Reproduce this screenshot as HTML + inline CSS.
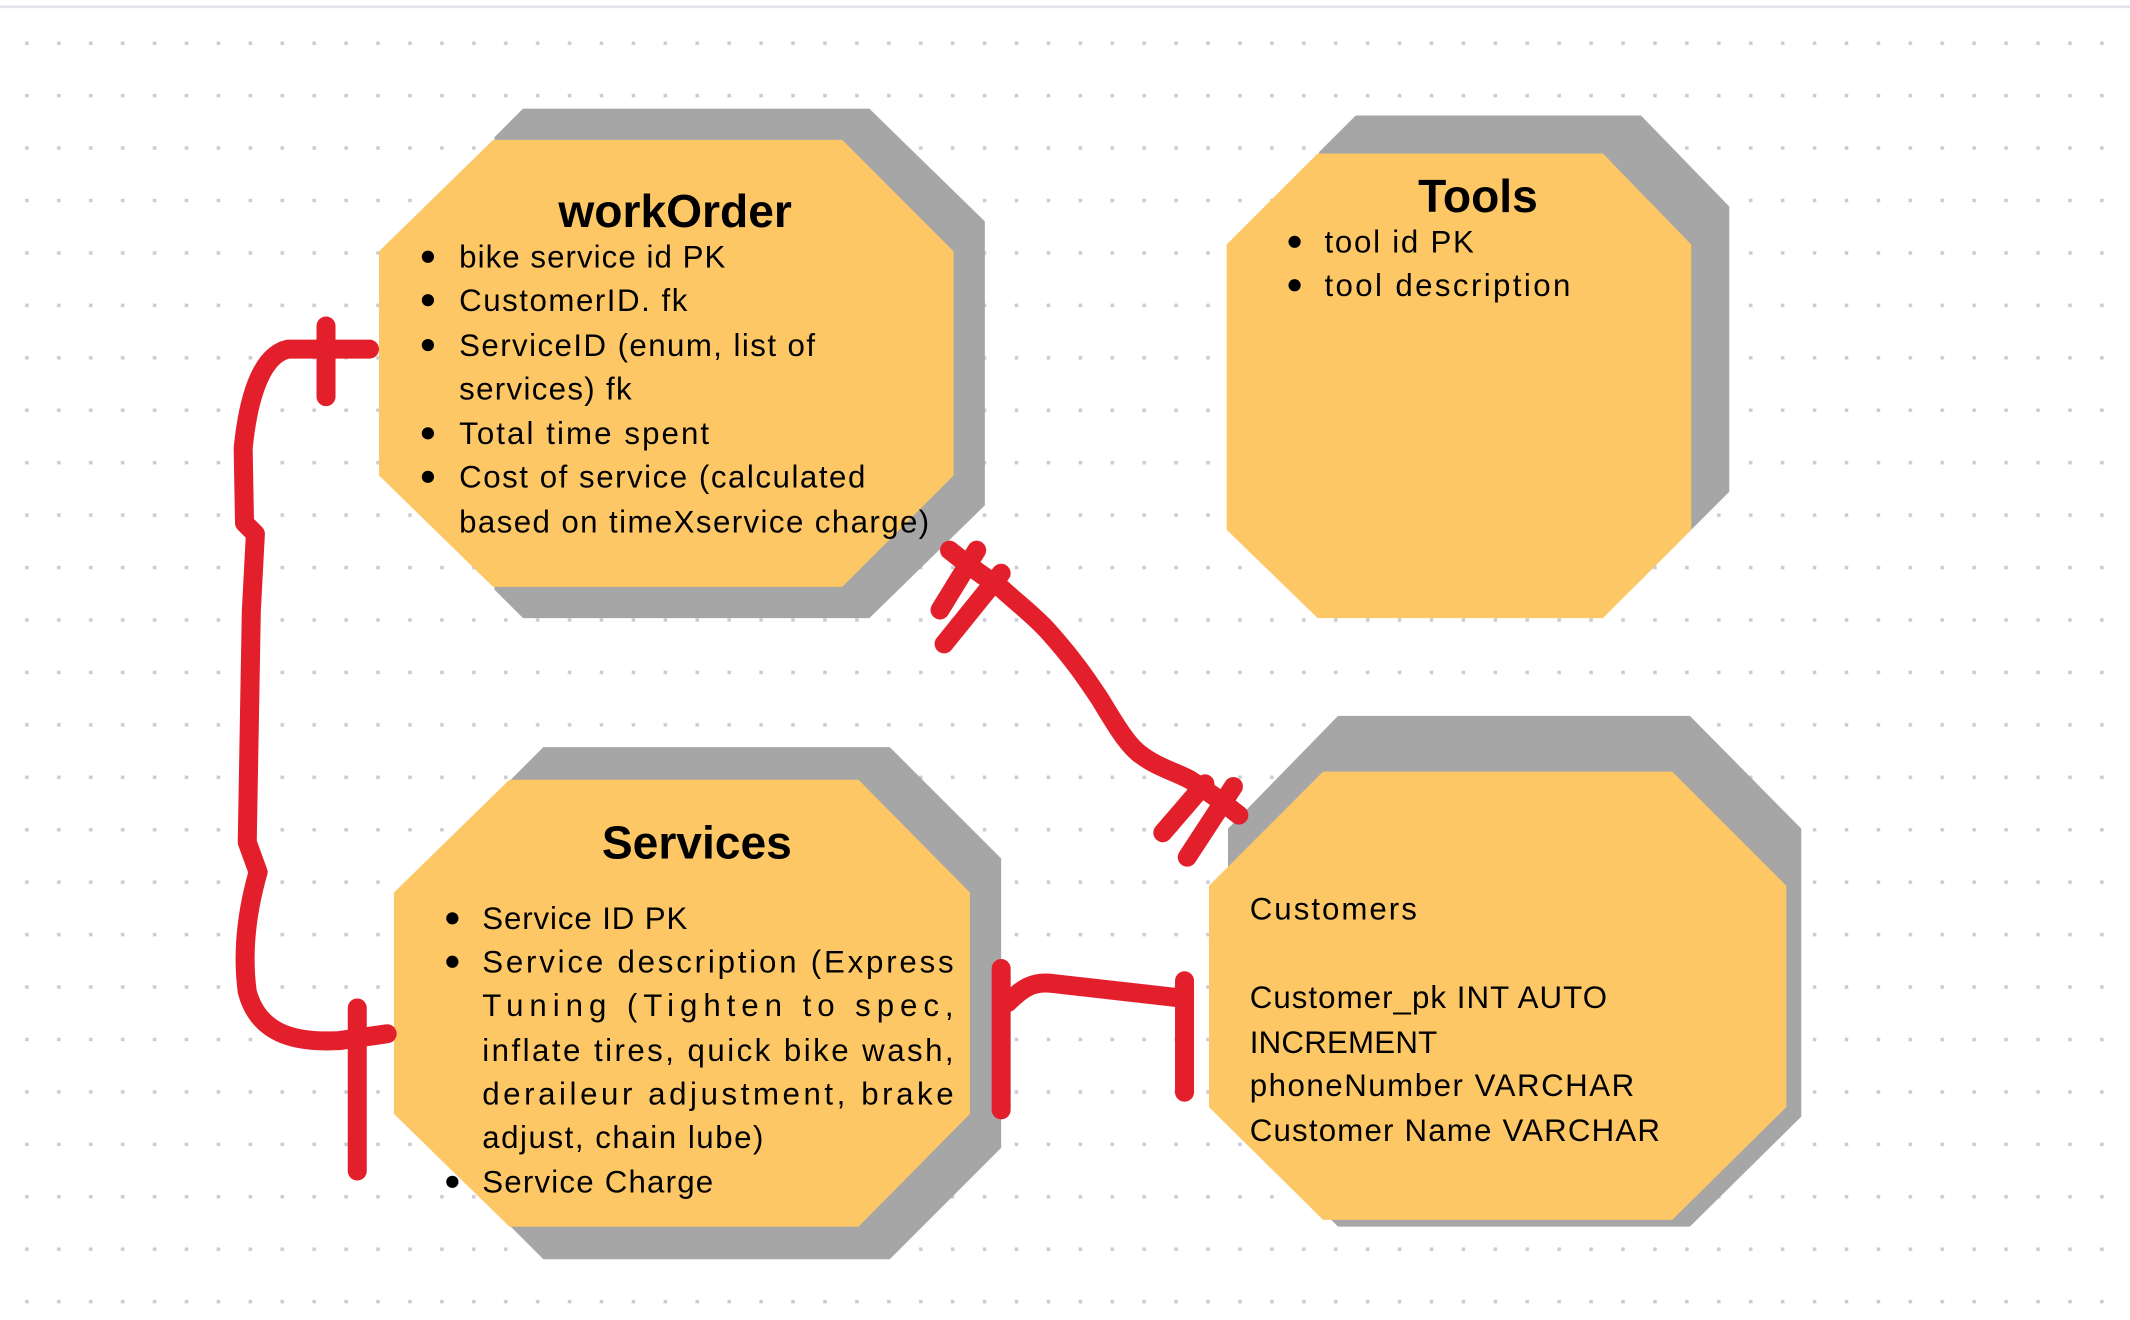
<!DOCTYPE html>
<html><head><meta charset="utf-8"><style>
html,body{margin:0;padding:0;background:#fff;}
svg{display:block;}
text{font-family:"Liberation Sans",sans-serif;fill:#000;}
</style></head><body>
<svg width="2130" height="1320" viewBox="0 0 1568 971.7" xmlns="http://www.w3.org/2000/svg">
<defs>
<pattern id="dots" x="0" y="0" width="23.5" height="38.6" patternUnits="userSpaceOnUse">
<rect x="18.5" y="30.5" width="2.6" height="2.6" fill="#c9ccd6"/>
</pattern>
</defs>
<rect width="1568" height="972" fill="#fff"/>
<rect x="0" y="0" width="1568" height="972" fill="url(#dots)"/>
<rect x="0" y="4" width="1568" height="2" fill="#e4e5ea"/>

<!-- workOrder -->
<polygon points="385,80 640,80 725,163 725,372 640,455 385,455 364,434 364,101" fill="#a6a6a6"/>
<polygon points="363,103 620,103 702,185 702,350 620,432 363,432 279,350 279,185" fill="#fdc766"/>
<text x="497" y="167" font-size="34" font-weight="bold" text-anchor="middle">workOrder</text>
<g font-size="23">
<circle cx="315" cy="189" r="4.5"/><text x="338" y="197" textLength="196">bike service id PK</text>
<circle cx="315" cy="221" r="4.5"/><text x="338" y="229" textLength="168">CustomerID. fk</text>
<circle cx="315" cy="254" r="4.5"/><text x="338" y="262" textLength="262">ServiceID (enum, list of</text>
<text x="338" y="294" textLength="127">services) fk</text>
<circle cx="315" cy="319" r="4.5"/><text x="338" y="327" textLength="184">Total time spent</text>
<circle cx="315" cy="351" r="4.5"/><text x="338" y="359" textLength="299">Cost of service (calculated</text>
<text x="338" y="392" textLength="346">based on timeXservice charge)</text>
</g>

<!-- Tools -->
<polygon points="998,85 1208,85 1273,152 1273,362 1200,435 971,435 971,112" fill="#a6a6a6"/>
<polygon points="970,113 1180,113 1245,180 1245,390 1180,455 970,455 903,390 903,180" fill="#fdc766"/>
<text x="1088" y="156" font-size="34" font-weight="bold" text-anchor="middle">Tools</text>
<g font-size="23">
<circle cx="953" cy="178" r="4.5"/><text x="975" y="186" textLength="110">tool id PK</text>
<circle cx="953" cy="210" r="4.5"/><text x="975" y="218" textLength="181">tool description</text>
</g>

<!-- Services -->
<polygon points="400,550 655,550 737,632 737,845 655,927 400,927 376,903 376,574" fill="#a6a6a6"/>
<polygon points="375,574 632,574 714,657 714,820 632,903 375,903 290,820 290,657" fill="#fdc766"/>
<text x="513" y="632" font-size="34" font-weight="bold" text-anchor="middle">Services</text>
<g font-size="23">
<circle cx="333" cy="676" r="4.5"/><text x="355" y="684" textLength="151">Service ID PK</text>
<circle cx="333" cy="708" r="4.5"/><text x="355" y="716" textLength="347" lengthAdjust="spacing">Service  description  (Express</text>
<text x="355" y="748" textLength="347" lengthAdjust="spacing">Tuning   (Tighten   to   spec,</text>
<text x="355" y="781" textLength="347" lengthAdjust="spacing">inflate tires, quick bike wash,</text>
<text x="355" y="813" textLength="347" lengthAdjust="spacing">deraileur  adjustment,  brake</text>
<text x="355" y="845" textLength="207">adjust, chain lube)</text>
<circle cx="333" cy="870" r="4.5"/><text x="355" y="878" textLength="170">Service Charge</text>
</g>

<!-- Customers -->
<polygon points="985,527 1244,527 1326,610 1326,822 1244,903 985,903 904,822 904,610" fill="#a6a6a6"/>
<polygon points="974,568 1231,568 1315,652 1315,815 1231,898 974,898 890,815 890,652" fill="#fdc766"/>
<g font-size="23">
<text x="920" y="677" textLength="123">Customers</text>
<text x="920" y="742" textLength="263">Customer_pk INT AUTO</text>
<text x="920" y="775" textLength="138">INCREMENT</text>
<text x="920" y="807" textLength="283">phoneNumber VARCHAR</text>
<text x="920" y="840" textLength="302">Customer Name VARCHAR</text>
</g>

<!-- red connectors -->
<g stroke="#e31f2b" stroke-width="14" stroke-linecap="round" stroke-linejoin="round" fill="none">
<path d="M272,257 L212,257 C190,262 182,300 179,330 L180,385 L188,393 L185,450 L182,620 L190,642 C182,670 178,700 182,730 C190,760 215,768 250,766 L285,761"/>
<path d="M240,240 L240,292"/>
<path d="M263,742 L263,862"/>
<path d="M737,713 L737,817"/>
<path d="M742,738 C752,728 760,722 775,724 L872,735"/>
<path d="M872,722 L872,804"/>
<path d="M699,405 C715,418 725,425 736,432 C750,445 760,452 771,464 C790,485 800,500 810,515 C822,535 830,548 839,555 C852,565 865,568 876,574 C890,583 902,592 912,600"/>
<path d="M719,405 L692,449"/>
<path d="M737,422 L695,474"/>
<path d="M887,577 L856,613"/>
<path d="M908,579 L874,631"/>
</g>
</svg>
</body></html>
